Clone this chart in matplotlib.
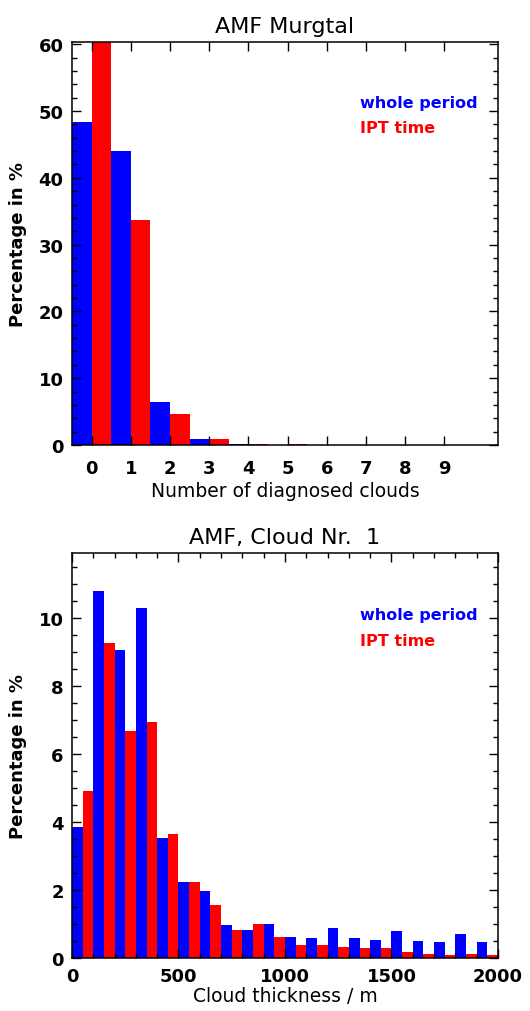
import numpy as np
import matplotlib
matplotlib.use("Agg")
import matplotlib.pyplot as plt
from matplotlib.ticker import MultipleLocator

# ---------------- data ----------------
n_clouds = np.arange(0, 10)
n_clouds_labels = [str(i) for i in n_clouds]
whole_counts = [48.4, 44.0, 6.4, 0.9, 0.15, 0.05, 0.05, 0.05, 0.05, 0.05]
ipt_counts = [60.4, 33.7, 4.7, 0.85, 0.2, 0.2, 0.05, 0.05, 0.05, 0.05]

thick_bins = np.arange(0, 2000, 100)  # left edges of 100 m bins
whole_thick = [3.87, 10.81, 9.08, 10.29, 3.55, 2.24, 1.99, 0.98, 0.83, 1.02,
               0.62, 0.59, 0.90, 0.59, 0.55, 0.80, 0.52, 0.48, 0.70, 0.48]
ipt_thick = [4.93, 9.26, 6.67, 6.95, 3.65, 2.24, 1.56, 0.84, 1.02, 0.62,
             0.40, 0.40, 0.34, 0.29, 0.29, 0.17, 0.13, 0.09, 0.13, 0.09]

BLUE = "#0000ff"
RED = "#ff0000"

plt.rcParams['font.family'] = ['DejaVu Sans']

fig = plt.figure(figsize=(5.3, 10.12), dpi=100)
ax1 = fig.add_axes([0.1358, 0.5593, 0.8038, 0.3987])
ax2 = fig.add_axes([0.1358, 0.0521, 0.8038, 0.4005])

# ---------------- top panel ----------------
ax1.bar(n_clouds - 0.25, whole_counts, width=0.5, color=BLUE, linewidth=0)
ax1.bar(n_clouds + 0.25, ipt_counts, width=0.5, color=RED, linewidth=0)
ax1.set_xlim(-0.5, 10.37)
ax1.set_ylim(0, 60.4)
ax1.set_xticks(n_clouds)
ax1.set_xticklabels(n_clouds_labels)
ax1.yaxis.set_major_locator(MultipleLocator(10))
ax1.yaxis.set_minor_locator(MultipleLocator(2))
ax1.set_title("AMF Murgtal", fontsize=16, pad=7)
ax1.set_xlabel("Number of diagnosed clouds", fontsize=13.5, labelpad=3)
ax1.set_ylabel("Percentage in %", fontsize=13, fontweight='bold')
ax1.yaxis.set_label_coords(-0.105, 0.5)
ax1.tick_params(axis='x', which='major', pad=10)
ax1.text(0.676, 0.848, "whole period", color=BLUE, transform=ax1.transAxes,
         fontsize=11.5, fontweight='bold', va='center', ha='left')
ax1.text(0.676, 0.786, "IPT time", color=RED, transform=ax1.transAxes,
         fontsize=11.5, fontweight='bold', va='center', ha='left')

# ---------------- bottom panel ----------------
ax2.bar(thick_bins, whole_thick, width=50, align='edge', color=BLUE, linewidth=0)
ax2.bar(thick_bins + 50, ipt_thick, width=50, align='edge', color=RED, linewidth=0)
ax2.set_xlim(0, 2000)
ax2.set_ylim(0, 11.92)
ax2.xaxis.set_major_locator(MultipleLocator(500))
ax2.xaxis.set_minor_locator(MultipleLocator(100))
ax2.yaxis.set_major_locator(MultipleLocator(2))
ax2.yaxis.set_minor_locator(MultipleLocator(0.5))
ax2.set_title("AMF, Cloud Nr.  1", fontsize=16, pad=7)
ax2.set_xlabel("Cloud thickness / m", fontsize=13.5, labelpad=1)
ax2.set_ylabel("Percentage in %", fontsize=13, fontweight='bold')
ax2.yaxis.set_label_coords(-0.105, 0.5)
ax2.tick_params(axis='x', which='major', pad=6)
ax2.text(0.676, 0.847, "whole period", color=BLUE, transform=ax2.transAxes,
         fontsize=11.5, fontweight='bold', va='center', ha='left')
ax2.text(0.676, 0.784, "IPT time", color=RED, transform=ax2.transAxes,
         fontsize=11.5, fontweight='bold', va='center', ha='left')

for ax in (ax1, ax2):
    ax.tick_params(which='both', direction='in', top=True, right=True,
                   labelsize=13, width=1.0)
    ax.tick_params(which='major', length=6.5)
    ax.tick_params(which='minor', length=3.5)
    ax.tick_params(axis='y', which='major', pad=6)
    for lab in ax.get_xticklabels() + ax.get_yticklabels():
        lab.set_fontweight('bold')
    for s in ax.spines.values():
        s.set_linewidth(1.1)

fig.savefig("out.png", dpi=100)
